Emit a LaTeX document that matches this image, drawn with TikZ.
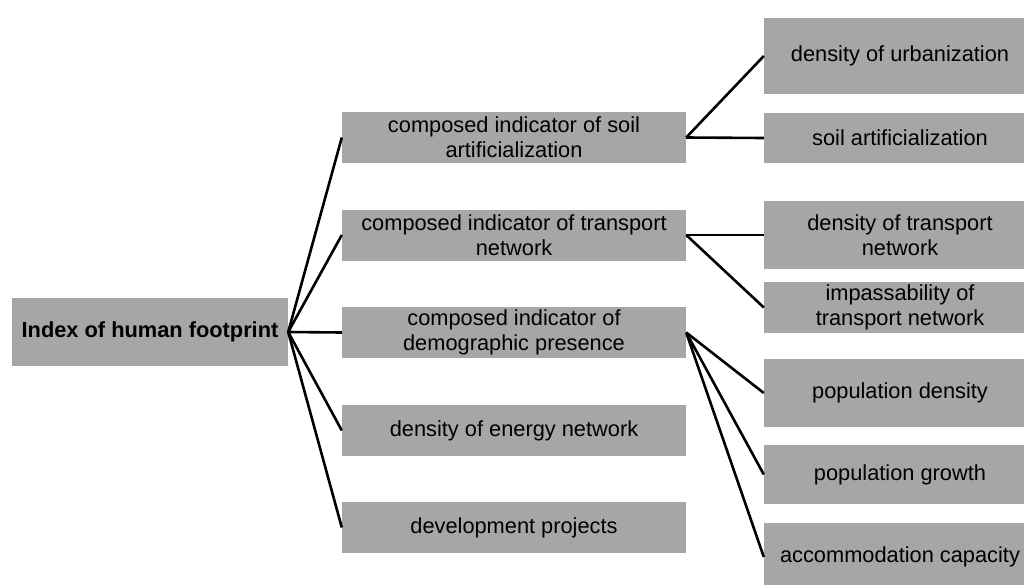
\documentclass[tikz,border=0pt]{standalone}
\usepackage{fontspec}
\setmainfont{Liberation Sans}
\tikzset{
  box/.style={fill=boxgray, text=black, align=center, inner sep=0pt,
    font=\fontsize{21.8}{25}\selectfont},
  link/.style={line width=2.6pt, black}
}
\definecolor{boxgray}{HTML}{A6A6A6}
\begin{document}
\begin{tikzpicture}[x=1pt,y=-1pt]

    % --- Frame of the picture ---
    \useasboundingbox (0,0) rectangle (1024,584);
    \clip (0,0) rectangle (1024,584);

    % --- Root ---
    \node[box, minimum width=276pt, minimum height=68pt, font=\fontsize{21.8}{25}\selectfont\bfseries]
        (root) at (150,332) {Index of human footprint};

    % --- Composed indicators (middle column) ---
    \node[box, minimum width=344pt, minimum height=51pt] (soil) at (514,137.5)
        {composed indicator of soil\\artificialization};
    \node[box, minimum width=344pt, minimum height=51pt] (trans) at (514,235)
        {composed indicator of transport\\network};
    \node[box, minimum width=344pt, minimum height=51pt] (demo) at (514,332.5)
        {composed indicator of\\demographic presence};
    \node[box, minimum width=344pt, minimum height=51pt] (energy) at (514,430.5)
        {density of energy network};
    \node[box, minimum width=344pt, minimum height=51pt] (dev) at (514,527.5)
        {development projects};

    % --- Basic indicators (right column) ---
    \node[box, minimum width=272pt, minimum height=76pt] (urb) at (900,56)
        {density of urbanization};
    \node[box, minimum width=272pt, minimum height=50pt] (art) at (900,138)
        {soil artificialization};
    \node[box, minimum width=272pt, minimum height=68pt] (dtn) at (900,235)
        {density of transport\\network};
    \node[box, minimum width=272pt, minimum height=51pt] (imp) at (900,307.5)
        {impassability of\\transport network};
    \node[box, minimum width=272pt, minimum height=68pt] (pd) at (900,393)
        {population density};
    \node[box, minimum width=272pt, minimum height=59pt] (pg) at (900,474.5)
        {population growth};
    \node[box, minimum width=272pt, minimum height=68pt] (acc) at (900,557)
        {accommodation capacity};

    % --- Connectors ---
    \foreach \m in {soil,trans,demo,energy,dev}
        \draw[link] (root.east) -- (\m.west);

    \draw[link] (soil.east) -- (urb.west);
    \draw[link] (soil.east) -- (art.west);
    \draw[link] (trans.east) -- (dtn.west);
    \draw[link] (trans.east) -- (imp.west);
    \foreach \r in {pd,pg,acc}
        \draw[link] (demo.east) -- (\r.west);

\end{tikzpicture}
\end{document}
